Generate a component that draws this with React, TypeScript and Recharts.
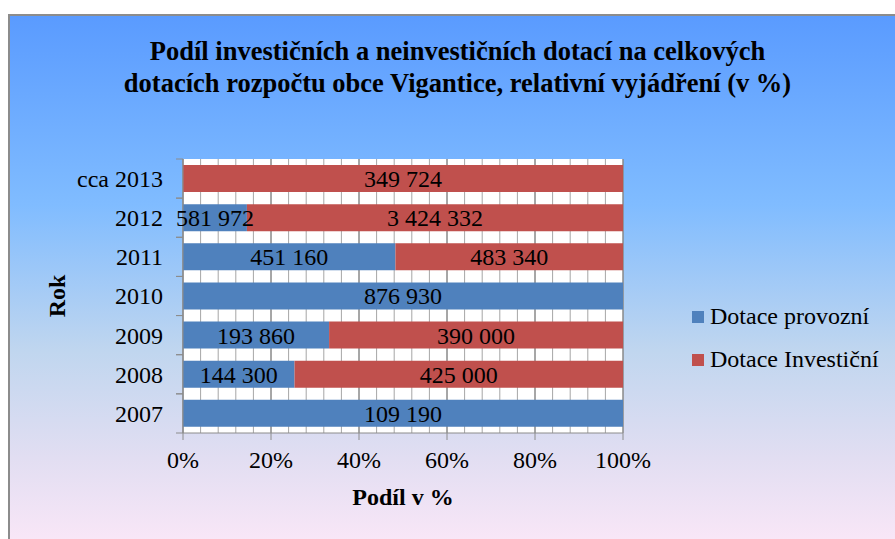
import React from 'react';
import { BarChart, Bar, XAxis, YAxis, CartesianGrid, LabelList } from 'recharts';

const years = ['2007', '2008', '2009', '2010', '2011', '2012', 'cca 2013'];
const provozni = [109190, 144300, 193860, 876930, 451160, 581972, 0];
const investicni = [0, 425000, 390000, 0, 483340, 3424332, 349724];
const xTicks = [0, 0.2, 0.4, 0.6, 0.8, 1];
const minorGrid = [0, 0.04, 0.08, 0.12, 0.16, 0.2, 0.24, 0.28, 0.32, 0.36, 0.4, 0.44, 0.48, 0.52, 0.56, 0.6, 0.64, 0.68, 0.72, 0.76, 0.8, 0.84, 0.88, 0.92, 0.96, 1];

const data = years.map((rok, i) => ({ rok, provozni: provozni[i], investicni: investicni[i] }));

const FONT = '"Liberation Serif", "Times New Roman", serif';
const BLUE = '#4f81bd';
const RED = '#c0504d';
const series = [
  { key: 'provozni', name: 'Dotace provozní', color: BLUE },
  { key: 'investicni', name: 'Dotace Investiční', color: RED },
];

// non-breaking space so the label never wraps inside a narrow bar
const fmt = (v: any) => {
  const n = Number(v);
  if (!n) return '';
  return String(n).replace(/\B(?=(\d{3})+(?!\d))/g, '\u00a0');
};

// minor grid every 4 %, placed through the x axis scale
const minorLines = ({ xAxis, offset }: any) =>
  minorGrid.map((v) =>
    xAxis && typeof xAxis.scale === 'function' ? xAxis.scale(v) : offset.left + v * offset.width
  );

const YTick = (props: any) => {
  const { x, y, payload, height } = props;
  const band = height / years.length;
  return (
    <g>
      <line x1={x - 7} x2={x} y1={y - band / 2} y2={y - band / 2} stroke="#8c8c8c" />
      <line x1={x - 7} x2={x} y1={y + band / 2} y2={y + band / 2} stroke="#8c8c8c" />
      <text x={x - 20} y={y} dy="0.35em" textAnchor="end" fontFamily={FONT} fontSize={24} fill="#000">
        {payload.value}
      </text>
    </g>
  );
};

const RokLabel = (props: any) => {
  const { viewBox } = props;
  const cx = viewBox.x + 57;
  const cy = viewBox.y + viewBox.height / 2;
  return (
    <text x={cx} y={cy} transform={`rotate(-90 ${cx} ${cy})`} textAnchor="middle" dy="0.35em"
      fontFamily={FONT} fontSize={24} fontWeight="bold" fill="#000">
      Rok
    </text>
  );
};

export default function App() {
  return (
    <div style={{ position: 'fixed', left: 0, top: 0, width: 895, height: 539, overflow: 'hidden', background: '#fff' }}>
      <div
        style={{
          position: 'absolute', left: 8, top: 14, width: 900, height: 540,
          borderLeft: '2px solid #8c8c8c', borderTop: '2px solid #8c8c8c',
          background: 'linear-gradient(to bottom, #5a9bff 0%, #80bcff 35%, #c0d6ef 62%, #e2def2 82%, #fde8f8 100%)',
        }}
      />
      <div
        style={{
          position: 'absolute', left: 8, top: 35, width: 899, textAlign: 'center',
          fontFamily: FONT, fontWeight: 'bold', fontSize: 26.5, lineHeight: '32px', color: '#000',
        }}
      >
        Podíl investičních a neinvestičních dotací na celkových
        <br />
        dotacích rozpočtu obce Vigantice, relativní vyjádření (v %)
      </div>
      <div style={{ position: 'absolute', left: 0, top: 0 }}>
        <BarChart
          width={895}
          height={539}
          data={data}
          layout="vertical"
          stackOffset="expand"
          margin={{ top: 159, right: 272, bottom: 26, left: 0 }}
        >
          <CartesianGrid horizontal={false} verticalCoordinatesGenerator={minorLines} stroke="#a6a6a6" fill="#ffffff" fillOpacity={1} />
          <CartesianGrid horizontal={false} stroke="#7a7a7a" />
          <XAxis
            type="number"
            domain={[0, 1]}
            ticks={xTicks}
            tickFormatter={(v: number) => `${Math.round(v * 100)}%`}
            height={80}
            stroke="#8c8c8c"
            tickSize={7}
            tickMargin={11}
            tick={{ fill: '#000', fontFamily: FONT, fontSize: 24 }}
            label={{ value: 'Podíl v %', position: 'insideBottom', offset: 8, fill: '#000', fontFamily: FONT, fontSize: 24, fontWeight: 'bold' }}
          />
          <YAxis
            type="category"
            dataKey="rok"
            reversed
            width={183}
            stroke="#8c8c8c"
            tickLine={false}
            tickSize={0}
            tickMargin={0}
            tick={<YTick />}
            label={<RokLabel />}
          />
          {series.map((s) => (
            <Bar key={s.key} dataKey={s.key} name={s.name} stackId="a" fill={s.color} barSize={27} isAnimationActive={false}>
              <LabelList dataKey={s.key} position="center" formatter={fmt} fill="#000" fontFamily={FONT} fontSize={24} />
            </Bar>
          ))}
        </BarChart>
      </div>
      <div style={{ position: 'absolute', left: 692, top: 295, fontFamily: FONT, fontSize: 24, color: '#000' }}>
        {series.map((s) => (
          <div key={s.key} style={{ display: 'flex', alignItems: 'center', height: 43, whiteSpace: 'nowrap' }}>
            <span style={{ display: 'inline-block', width: 12, height: 12, background: s.color, marginRight: 6 }} />
            <span>{s.name}</span>
          </div>
        ))}
      </div>
    </div>
  );
}
